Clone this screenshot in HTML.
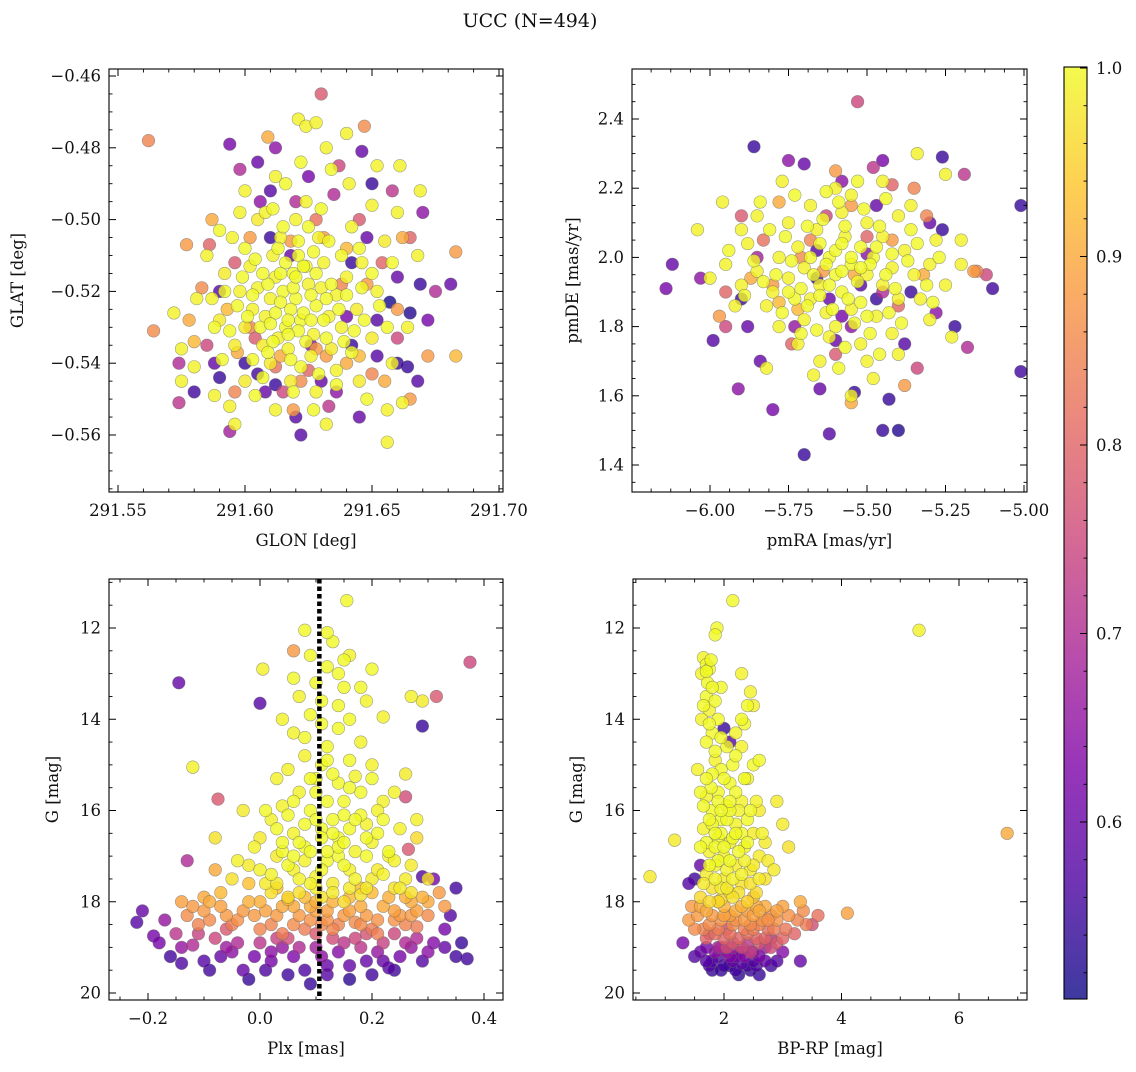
<!DOCTYPE html>
<html><head><meta charset="utf-8"><style>
html,body{margin:0;padding:0;background:#fff;}
svg text{font-family:"DejaVu Serif","Liberation Serif",serif;fill:#111;}
</style></head><body>
<svg id="fig" width="1136" height="1067" xmlns="http://www.w3.org/2000/svg">
<defs>
<linearGradient id="cbgrad" x1="0" y1="1" x2="0" y2="0">
<stop offset="0" stop-color="#0d0887"/><stop offset="0.125" stop-color="#4c02a1"/><stop offset="0.25" stop-color="#7e03a8"/><stop offset="0.375" stop-color="#a92395"/><stop offset="0.5" stop-color="#cc4778"/><stop offset="0.625" stop-color="#e56b5d"/><stop offset="0.75" stop-color="#f89540"/><stop offset="0.875" stop-color="#fdc527"/><stop offset="1" stop-color="#f0f921"/>
</linearGradient>
</defs>
<text x="530" y="27" font-size="19" text-anchor="middle">UCC (N=494)</text>
</svg>
<script>
const vmin = 0.51, vmax = 1.0;
const panel1Points = [
[291.615,-0.520,1.0],[291.620,-0.522,1.0],[291.625,-0.518,0.99],[291.618,-0.525,1.0],[291.622,-0.528,1.0],[291.612,-0.516,0.99],[291.628,-0.524,1.0],[291.610,-0.522,0.99],[291.630,-0.519,0.99],[291.616,-0.530,1.0],[291.624,-0.513,0.99],[291.608,-0.527,0.99],[291.633,-0.527,0.99],[291.619,-0.515,1.0],[291.613,-0.533,0.99],[291.627,-0.532,0.99],[291.605,-0.519,0.99],[291.636,-0.521,0.99],[291.621,-0.510,1.0],[291.611,-0.510,0.99],[291.631,-0.512,0.99],[291.603,-0.525,0.99],[291.638,-0.530,0.99],[291.617,-0.536,0.99],[291.626,-0.538,0.99],[291.607,-0.535,0.98],[291.640,-0.516,0.99],[291.600,-0.530,0.98],[291.614,-0.505,0.99],[291.629,-0.505,0.99],[291.634,-0.536,0.98],[291.602,-0.513,0.99],[291.644,-0.525,0.98],[291.598,-0.520,0.99],[291.620,-0.500,0.99],[291.610,-0.540,0.98],[291.636,-0.542,0.99],[291.596,-0.535,0.98],[291.646,-0.512,0.99],[291.592,-0.515,0.98],[291.650,-0.533,0.98],[291.624,-0.495,0.99],[291.605,-0.500,0.98],[291.642,-0.502,0.99],[291.590,-0.528,0.98],[291.652,-0.520,0.99],[291.618,-0.545,0.98],[291.628,-0.548,0.99],[291.600,-0.545,0.98],[291.645,-0.545,0.98],[291.587,-0.522,0.99],[291.655,-0.506,0.98],
[291.598,-0.498,0.99],[291.608,-0.498,0.99],[291.600,-0.492,0.99],[291.621,-0.472,0.99],[291.624,-0.474,0.99],[291.628,-0.473,0.99],[291.632,-0.480,0.99],[291.640,-0.476,0.99],[291.652,-0.485,0.99],[291.661,-0.485,0.99],[291.669,-0.492,0.99],[291.662,-0.551,0.99],[291.656,-0.553,0.99],[291.656,-0.562,0.99],[291.596,-0.557,0.99],[291.581,-0.522,0.99],[291.572,-0.526,0.99],[291.575,-0.536,0.99],[291.580,-0.541,0.99],[291.588,-0.549,0.99],[291.594,-0.552,0.99],[291.664,-0.530,0.99],[291.668,-0.510,0.99],[291.658,-0.540,0.99],[291.632,-0.557,0.99],[291.612,-0.553,0.99],[291.641,-0.490,0.99],[291.612,-0.488,0.99],[291.595,-0.505,0.99],[291.650,-0.496,0.99],[291.585,-0.510,0.99],[291.660,-0.498,0.99],[291.575,-0.545,0.99],
[291.614,-0.523,1.0],[291.619,-0.519,1.0],[291.623,-0.526,1.0],[291.617,-0.528,1.0],[291.626,-0.521,1.0],[291.609,-0.518,1.0],[291.631,-0.528,1.0],[291.621,-0.531,1.0],[291.612,-0.526,1.0],[291.628,-0.515,1.0],[291.616,-0.512,1.0],[291.634,-0.518,1.0],[291.606,-0.530,1.0],[291.624,-0.534,1.0],[291.620,-0.516,1.0],[291.611,-0.534,1.0],[291.632,-0.533,1.0],[291.603,-0.521,1.0],[291.637,-0.525,1.0],[291.618,-0.539,1.0],[291.627,-0.509,1.0],[291.613,-0.508,1.0],[291.609,-0.537,1.0],[291.640,-0.521,1.0],[291.601,-0.527,1.0],[291.622,-0.541,1.0],[291.615,-0.502,1.0],[291.633,-0.506,1.0],[291.629,-0.543,1.0],[291.604,-0.511,1.0],[291.643,-0.531,1.0],[291.597,-0.524,1.0],[291.638,-0.510,1.0],[291.607,-0.544,1.0],[291.625,-0.502,1.0],[291.642,-0.537,1.0],[291.599,-0.516,1.0],[291.619,-0.548,1.0],[291.646,-0.519,1.0],[291.594,-0.531,1.0],[291.611,-0.497,1.0],[291.630,-0.497,1.0],[291.647,-0.528,1.0],[291.603,-0.539,1.0],[291.636,-0.546,1.0],[291.592,-0.520,1.0],[291.650,-0.515,1.0],[291.621,-0.506,1.0],[291.614,-0.515,1.0],[291.626,-0.528,1.0],[291.617,-0.532,1.0],[291.623,-0.513,1.0],[291.610,-0.529,1.0],[291.632,-0.522,1.0],[291.607,-0.515,1.0],[291.639,-0.534,1.0],[291.600,-0.508,1.0],[291.645,-0.508,1.0],[291.591,-0.539,1.0],[291.653,-0.524,1.0],[291.616,-0.490,1.0],[291.634,-0.486,1.0],[291.604,-0.549,1.0],[291.648,-0.550,1.0],[291.588,-0.530,1.0],[291.656,-0.530,1.0],[291.622,-0.484,1.0],[291.590,-0.503,1.0],[291.658,-0.512,1.0],[291.627,-0.553,1.0],
[291.564,-0.531,0.86],[291.562,-0.478,0.85],[291.577,-0.507,0.88],[291.574,-0.540,0.70],[291.574,-0.551,0.72],[291.594,-0.479,0.62],[291.605,-0.484,0.60],[291.609,-0.477,0.90],[291.647,-0.474,0.86],[291.646,-0.481,0.60],[291.670,-0.498,0.65],[291.683,-0.509,0.88],[291.669,-0.518,0.55],[291.681,-0.518,0.60],[291.672,-0.538,0.88],[291.683,-0.538,0.92],[291.664,-0.541,0.55],[291.665,-0.550,0.88],[291.594,-0.559,0.68],[291.620,-0.555,0.58],[291.619,-0.553,0.88],[291.586,-0.507,0.80],[291.590,-0.544,0.55],[291.605,-0.543,0.56],[291.630,-0.545,0.60],[291.642,-0.535,0.55],[291.652,-0.528,0.58],[291.660,-0.516,0.60],[291.657,-0.523,0.52],[291.665,-0.526,0.53],[291.610,-0.505,0.55],[291.625,-0.488,0.62],[291.635,-0.493,0.70],[291.645,-0.500,0.78],[291.597,-0.537,0.90],[291.602,-0.530,0.85],[291.632,-0.538,0.88],[291.640,-0.540,0.90],[291.625,-0.542,0.80],[291.612,-0.541,0.82],[291.648,-0.518,0.88],[291.654,-0.512,0.80],[291.593,-0.525,0.92],[291.596,-0.512,0.78],[291.583,-0.519,0.86],[291.580,-0.534,0.92],[291.588,-0.540,0.60],[291.615,-0.548,0.75],[291.636,-0.548,0.65],[291.650,-0.543,0.85],[291.660,-0.533,0.75],[291.628,-0.500,0.82],[291.606,-0.495,0.65],[291.640,-0.508,0.92],[291.618,-0.506,0.88],[291.598,-0.486,0.70],[291.610,-0.492,0.58],[291.658,-0.492,0.72],[291.665,-0.505,0.80],[291.672,-0.528,0.62],[291.630,-0.465,0.78],
[291.628,-0.536,0.88],[291.614,-0.538,0.90],[291.638,-0.518,0.85],[291.604,-0.533,0.78],[291.622,-0.545,0.86],[291.645,-0.538,0.92],[291.600,-0.540,0.55],[291.608,-0.548,0.60],[291.640,-0.527,0.62],[291.652,-0.538,0.58],[291.655,-0.545,0.90],[291.660,-0.525,0.88],[291.648,-0.505,0.60],[291.590,-0.520,0.58],[291.585,-0.535,0.75],[291.578,-0.528,0.90],[291.596,-0.548,0.85],[291.633,-0.552,0.72],[291.645,-0.555,0.60],[291.668,-0.545,0.58],[291.675,-0.520,0.70],[291.662,-0.505,0.90],[291.620,-0.495,0.70],[291.602,-0.505,0.88],[291.612,-0.480,0.65],[291.637,-0.485,0.75],[291.650,-0.490,0.55],[291.587,-0.500,0.90],[291.580,-0.548,0.56],[291.622,-0.560,0.58],[291.612,-0.546,0.55],[291.642,-0.512,0.55],[291.626,-0.535,0.65],[291.618,-0.510,0.60],[291.631,-0.505,0.88],[291.660,-0.540,0.55]
];
const panel2Points = [
[-5.60,1.95,1.0],[-5.55,1.98,1.0],[-5.65,1.92,0.99],[-5.58,1.90,1.0],[-5.62,2.00,1.0],[-5.50,1.95,0.99],[-5.70,1.97,0.99],[-5.52,2.03,1.0],[-5.68,1.88,0.99],[-5.45,1.92,0.99],[-5.75,1.94,0.99],[-5.57,2.06,0.99],[-5.63,1.84,0.99],[-5.48,2.00,1.0],[-5.72,2.03,0.99],[-5.42,1.97,0.99],[-5.80,1.90,0.99],[-5.55,1.85,0.99],[-5.66,2.08,0.99],[-5.40,1.88,0.99],[-5.78,2.00,0.99],[-5.50,2.10,0.99],[-5.60,1.80,0.99],[-5.35,1.95,0.99],[-5.85,1.96,0.99],[-5.45,2.06,0.99],[-5.70,1.82,0.99],[-5.38,2.02,0.99],[-5.82,1.86,0.99],[-5.58,2.13,0.99],[-5.62,1.77,0.99],[-5.30,1.98,0.99],[-5.90,1.92,0.99],[-5.47,1.83,0.99],[-5.75,2.10,0.99],[-5.40,2.12,0.99],[-5.52,1.75,0.99],[-5.88,2.04,0.99],[-5.33,1.88,0.99],[-5.68,2.15,0.99],[-5.28,2.05,0.99],[-5.95,1.98,0.99],[-5.55,2.18,0.99],[-5.72,1.75,0.99],[-5.42,1.78,0.99],[-5.25,1.92,0.99],[-5.92,1.86,0.99],[-5.60,2.20,0.99],[-5.85,2.12,0.99],[-5.36,2.15,0.99],[-5.50,1.70,0.99],[-5.78,1.80,0.99],[-5.20,1.98,0.99],[-6.00,1.94,0.99],[-5.65,1.70,0.99],[-5.45,2.22,0.99],[-5.30,1.82,0.99],[-5.20,2.05,0.99],[-5.34,2.30,0.99],[-6.04,2.08,0.99],[-5.96,2.16,0.99],[-5.77,2.22,0.99],[-5.23,1.77,0.99],[-5.25,2.24,0.99],[-5.48,1.65,0.99],[-5.40,1.72,0.99],[-5.55,1.60,0.99],[-5.82,1.68,0.99],[-5.90,2.08,0.99],[-5.67,1.66,0.99],
[-5.58,1.96,1.0],[-5.63,1.98,1.0],[-5.53,1.93,1.0],[-5.67,1.95,1.0],[-5.60,2.02,1.0],[-5.56,1.88,1.0],[-5.71,1.91,1.0],[-5.49,1.98,1.0],[-5.65,2.04,1.0],[-5.52,1.87,1.0],[-5.74,1.99,1.0],[-5.44,1.95,1.0],[-5.61,1.85,1.0],[-5.57,2.09,1.0],[-5.69,1.86,1.0],[-5.47,2.03,1.0],[-5.79,1.95,1.0],[-5.41,1.91,1.0],[-5.64,2.11,1.0],[-5.54,1.81,1.0],[-5.76,2.06,1.0],[-5.37,1.99,1.0],[-5.83,1.93,1.0],[-5.51,2.14,1.0],[-5.66,1.79,1.0],[-5.43,1.84,1.0],[-5.73,1.88,1.0],[-5.59,2.16,1.0],[-5.34,2.04,1.0],[-5.86,1.99,1.0],[-5.49,1.78,1.0],[-5.62,1.92,1.0],[-5.55,2.00,1.0],[-5.68,2.00,1.0],[-5.46,2.09,1.0],[-5.81,2.08,1.0],[-5.39,1.81,1.0],[-5.71,1.78,1.0],[-5.57,1.74,1.0],[-5.31,1.92,1.0],[-5.89,1.89,1.0],[-5.63,2.19,1.0],[-5.44,2.17,1.0],[-5.77,1.84,1.0],[-5.36,2.08,1.0],[-5.53,2.22,1.0],[-5.84,2.16,1.0],[-5.27,2.00,1.0],[-5.94,2.02,1.0],[-5.59,1.68,1.0],[-5.46,1.72,1.0],[-5.73,2.18,1.0],[-5.29,1.87,1.0],[-5.52,1.97,1.0],[-5.65,1.89,1.0],[-5.58,2.04,1.0],[-5.42,2.01,1.0],[-5.75,1.90,1.0],[-5.50,1.83,1.0],[-5.69,2.09,1.0],
[-6.14,1.91,0.62],[-5.53,2.45,0.75],[-5.86,2.32,0.55],[-5.26,2.29,0.55],[-5.19,2.24,0.72],[-5.01,2.15,0.55],[-5.01,1.67,0.56],[-5.70,1.43,0.55],[-5.62,1.49,0.58],[-5.45,1.50,0.55],[-5.40,1.50,0.53],[-5.43,1.59,0.55],[-5.54,1.61,0.55],[-5.80,1.56,0.62],[-5.91,1.62,0.65],[-5.99,1.76,0.58],[-6.12,1.98,0.60],[-5.15,1.96,0.85],[-5.12,1.95,0.75],[-5.10,1.91,0.56],[-5.18,1.74,0.70],[-5.22,1.80,0.55],[-5.26,2.08,0.55],[-5.30,2.10,0.60],[-5.38,1.63,0.88],[-5.34,1.68,0.75],[-5.84,1.70,0.60],[-5.74,1.75,0.80],[-5.75,2.28,0.65],[-5.70,2.27,0.60],[-5.60,2.25,0.88],[-5.58,2.22,0.65],[-5.48,2.26,0.72],[-5.42,2.21,0.80],[-5.35,2.20,0.85],[-5.95,1.80,0.75],[-5.88,1.80,0.60],[-5.97,1.83,0.88],[-5.80,1.92,0.88],[-5.68,2.05,0.85],[-5.50,2.06,0.80],[-5.45,1.90,0.70],[-5.62,1.88,0.60],[-5.55,1.80,0.65],[-5.32,1.95,0.90],[-5.40,1.86,0.80],[-5.66,1.94,0.55],[-5.52,1.92,0.58],[-5.28,1.84,0.65],[-5.85,2.00,0.68],[-5.78,2.16,0.90],[-5.63,2.12,0.75],[-5.47,2.15,0.60],[-5.90,1.88,0.55],[-5.72,1.85,0.92],[-5.60,1.72,0.78],[-5.55,1.58,0.90],[-5.16,1.96,0.88],[-5.90,2.12,0.78],[-6.03,1.94,0.65],
[-5.64,1.96,0.88],[-5.54,1.95,0.90],[-5.71,2.00,0.86],[-5.47,1.88,0.55],[-5.58,1.83,0.62],[-5.66,2.02,0.58],[-5.50,2.01,0.65],[-5.78,1.87,0.92],[-5.42,2.05,0.88],[-5.36,1.90,0.55],[-5.83,2.05,0.82],[-5.60,1.76,0.60],[-5.55,2.15,0.88],[-5.73,1.80,0.66],[-5.38,1.75,0.58],[-5.87,1.94,0.90],[-5.31,2.12,0.85],[-5.45,2.28,0.62],[-5.95,1.90,0.80],[-5.65,1.62,0.60]
];
const panel3Points = [
[0.08,12.05,1.0],[0.155,11.4,1.0],[0.005,12.9,0.99],[0.13,12.3,1.0],[0.15,12.7,1.0],[0.16,12.6,0.99],[0.14,13.0,1.0],[0.10,13.2,1.0],[0.07,13.5,0.99],[0.15,13.3,1.0],[0.22,13.95,0.99],[0.27,13.5,0.99],[0.11,13.6,1.0],[0.09,13.9,1.0],[0.06,14.3,0.99],[0.14,14.2,1.0],[0.18,14.5,0.99],[0.12,14.6,1.0],[0.08,14.8,0.99],[0.16,14.9,1.0],[0.05,15.1,0.99],[0.20,15.0,0.99],[0.10,15.3,1.0],[0.14,15.4,1.0],[0.07,15.6,0.99],[0.18,15.6,1.0],[0.12,15.8,1.0],[0.04,15.9,0.99],[0.22,15.8,0.99],[0.09,16.0,1.0],[0.15,16.1,1.0],[0.02,16.2,0.99],[0.19,16.3,0.99],[0.11,16.4,1.0],[0.06,16.5,0.99],[0.25,16.4,0.99],[0.14,16.6,1.0],[0.00,16.6,0.98],[0.20,16.7,0.99],[0.08,16.8,1.0],[0.17,16.9,0.99],[0.03,17.0,0.98],[0.23,17.0,0.99],[0.12,17.1,1.0],[-0.02,17.2,0.98],[0.27,17.2,0.98],[0.06,17.3,0.99],[0.16,17.3,0.99],[0.10,17.45,0.99],[0.20,17.5,0.98],[-0.05,17.5,0.97],[0.01,17.6,0.98],[0.13,17.6,0.98],[0.24,17.7,0.97],[0.07,17.8,0.97],[0.18,17.85,0.97],[-0.08,16.6,0.97],[-0.12,15.05,0.99],[0.30,17.5,0.97],[0.28,16.6,0.96],[0.05,17.9,0.96],[0.15,18.0,0.96],[0.09,12.6,1.0],[0.12,12.85,1.0],[0.04,14.0,0.99],[0.19,13.6,0.99],[0.21,16.0,0.99],[0.03,15.3,0.99],[-0.03,16.0,0.98],[0.26,15.2,0.98],[0.11,15.0,1.0],[0.13,16.2,1.0],[0.16,17.7,0.98],[0.08,17.1,0.99],[0.02,17.8,0.97],[0.21,17.3,0.98],[0.11,17.9,0.97],[0.29,13.6,0.98],[0.24,15.6,0.99],[0.17,15.25,0.99],
[0.10,16.2,1.0],[0.13,16.5,1.0],[0.07,16.7,1.0],[0.16,16.4,1.0],[0.04,16.9,1.0],[0.19,17.0,1.0],[0.11,17.3,1.0],[0.14,17.0,1.0],[0.02,17.4,0.99],[0.09,17.6,0.99],[0.17,17.5,0.99],[0.22,17.4,0.99],[0.05,17.2,1.0],[0.12,16.9,1.0],[0.08,16.3,1.0],[0.15,15.8,1.0],[0.18,16.1,1.0],[0.06,15.8,1.0],[0.10,15.6,1.0],[0.13,15.2,1.0],[0.21,16.5,1.0],[0.24,17.1,0.99],[0.00,17.3,0.99],[-0.01,16.8,0.99],[0.03,16.4,1.0],[0.15,17.2,1.0],[0.07,17.5,0.99],[0.11,16.6,1.0],[0.19,16.6,1.0],[0.26,17.5,0.98],[0.13,17.8,0.98],[0.09,16.9,1.0],[0.17,16.2,1.0],[0.05,16.1,1.0],[0.20,15.3,1.0],[0.12,14.9,1.0],[0.08,14.4,1.0],[0.16,14.0,1.0],[0.11,14.1,1.0],[0.14,13.7,1.0],[0.18,13.3,1.0],[0.06,13.1,1.0],[0.20,12.9,1.0],[0.12,12.1,1.0],[0.28,16.2,0.99],[0.25,17.7,0.98],[-0.04,17.1,0.99],[0.03,17.6,0.98],[0.14,16.8,1.0],[0.22,16.2,1.0],[0.09,15.3,1.0],[0.16,15.5,1.0],[0.04,16.7,1.0],[0.19,17.7,0.98],[0.27,17.8,0.97],[0.01,16.0,1.0],[0.23,16.9,1.0],[0.10,17.7,0.98],[0.06,17.0,1.0],[0.15,16.7,1.0],
[-0.10,17.9,0.90],[-0.07,18.1,0.89],[-0.03,18.2,0.88],[0.00,18.0,0.91],[0.03,18.3,0.88],[0.06,18.1,0.90],[0.09,18.4,0.87],[0.12,18.2,0.89],[0.15,18.3,0.88],[0.18,18.1,0.90],[0.21,18.4,0.87],[0.24,18.2,0.89],[0.27,18.0,0.90],[0.30,18.3,0.86],[-0.13,18.3,0.86],[0.02,18.5,0.85],[0.08,18.6,0.84],[0.14,18.5,0.85],[0.20,18.6,0.84],[0.26,18.5,0.85],[-0.05,18.5,0.84],[0.32,17.8,0.88],[0.10,18.0,0.91],[-0.09,18.4,0.86],[0.17,18.45,0.86],[0.05,17.95,0.92],[0.23,17.9,0.91],[-0.12,18.1,0.88],[0.28,18.55,0.84],[-0.08,17.3,0.90],
[-0.09,18.0,0.90],[-0.06,18.3,0.88],[-0.02,18.0,0.91],[0.01,18.2,0.89],[0.04,18.1,0.90],[0.07,18.3,0.88],[0.10,18.2,0.89],[0.13,18.0,0.91],[0.16,18.2,0.89],[0.19,18.3,0.88],[0.22,18.1,0.90],[0.25,18.3,0.88],[0.28,18.2,0.89],[-0.11,18.5,0.85],[-0.04,18.4,0.87],[0.00,18.6,0.85],[0.06,18.5,0.86],[0.12,18.4,0.87],[0.18,18.5,0.86],[0.24,18.4,0.87],[0.30,18.0,0.90],[-0.07,17.8,0.92],[0.03,17.7,0.93],[0.16,17.9,0.92],[0.20,17.8,0.92],[0.26,17.9,0.91],[-0.02,17.6,0.93],[0.09,18.1,0.90],[0.13,18.6,0.85],[0.21,18.7,0.84],[-0.10,18.2,0.88],[0.08,17.9,0.92],[0.29,17.9,0.91],[0.33,18.1,0.88],[-0.14,18.0,0.89],[0.04,18.7,0.84],[0.11,18.5,0.86],[0.27,18.3,0.88],[0.18,17.7,0.93],[-0.01,18.3,0.88],
[-0.21,18.2,0.60],[-0.22,18.45,0.58],[-0.19,18.75,0.62],[-0.15,18.7,0.72],[-0.16,19.2,0.56],[-0.12,18.95,0.70],[-0.10,19.3,0.58],[-0.08,18.8,0.75],[-0.05,19.1,0.65],[-0.03,19.5,0.60],[0.00,18.9,0.72],[0.02,19.3,0.62],[0.05,19.6,0.56],[0.07,19.0,0.70],[0.09,19.8,0.55],[0.11,19.2,0.65],[0.13,18.8,0.76],[0.16,19.4,0.60],[0.18,19.0,0.72],[0.20,19.6,0.56],[0.22,18.9,0.74],[0.25,19.2,0.62],[0.28,18.8,0.70],[0.30,19.1,0.65],[0.34,18.3,0.58],[0.35,17.7,0.56],[0.36,18.9,0.55],[0.37,19.25,0.56],[0.33,18.6,0.62],[-0.145,13.2,0.60],[0.0,13.65,0.58],[0.29,14.15,0.55],[0.375,12.75,0.75],[0.315,13.5,0.78],[0.265,16.85,0.78],[0.26,15.7,0.76],[-0.075,15.75,0.78],[0.06,12.5,0.88],[-0.02,19.7,0.55],[0.04,19.0,0.66],[0.12,19.6,0.58],[0.15,18.9,0.72],[-0.06,18.6,0.78],[0.24,18.7,0.75],[-0.13,17.1,0.70],[0.31,17.5,0.62],[0.29,17.45,0.58],[0.10,18.7,0.78],[0.19,18.7,0.77],[-0.14,19.35,0.57],[0.23,19.45,0.58],
[-0.18,18.9,0.62],[-0.14,19.0,0.66],[-0.11,18.7,0.74],[-0.07,19.2,0.60],[-0.04,18.9,0.70],[-0.01,19.2,0.62],[0.01,19.5,0.57],[0.03,18.8,0.74],[0.06,19.2,0.63],[0.08,19.5,0.57],[0.10,19.0,0.68],[0.14,19.1,0.64],[0.17,18.8,0.75],[0.19,19.3,0.60],[0.21,19.1,0.66],[0.24,19.5,0.56],[0.26,18.9,0.70],[0.29,19.3,0.58],[0.31,18.9,0.64],[0.33,19.0,0.60],[-0.09,19.5,0.56],[0.12,19.4,0.60],[0.05,18.8,0.76],[0.16,19.7,0.54],[-0.17,18.4,0.66],[0.35,19.2,0.56],[0.27,19.0,0.66],[-0.06,19.0,0.67],[0.02,19.1,0.65],[0.22,19.3,0.60]
];
const panel4Points = [
[2.15,11.4,1.0],[1.88,12.0,1.0],[1.85,12.15,1.0],[1.65,12.65,0.99],[1.70,12.8,1.0],[1.75,12.9,1.0],[1.62,13.0,0.99],[1.72,13.2,1.0],[2.30,13.0,0.99],[2.45,13.4,0.99],[2.40,13.7,1.0],[2.50,13.7,0.99],[1.70,13.5,1.0],[1.85,13.6,1.0],[1.75,13.8,0.99],[1.90,14.0,1.0],[2.20,14.3,0.99],[2.30,14.6,0.99],[1.80,14.3,1.0],[1.70,14.5,1.0],[2.05,14.6,1.0],[1.85,14.9,0.99],[1.95,15.1,1.0],[1.55,15.1,0.99],[1.80,15.2,1.0],[2.40,15.3,0.99],[2.10,15.4,1.0],[1.90,15.6,1.0],[1.70,15.7,0.99],[2.30,15.8,0.99],[2.90,15.8,0.98],[2.05,15.9,1.0],[1.80,16.0,1.0],[2.60,16.0,0.98],[1.95,16.2,1.0],[2.20,16.3,0.99],[1.65,16.4,0.99],[2.50,16.5,0.98],[1.90,16.6,1.0],[1.16,16.65,0.98],[2.10,16.7,0.99],[2.35,16.8,0.99],[1.75,16.9,0.99],[2.00,17.0,0.99],[2.60,17.0,0.98],[1.85,17.2,0.99],[2.20,17.2,0.98],[3.10,16.8,0.97],[2.45,17.3,0.98],[1.70,17.4,0.98],[0.74,17.45,0.98],[2.00,17.5,0.98],[2.30,17.6,0.97],[1.80,17.7,0.97],[2.10,17.8,0.97],[2.55,17.8,0.96],[1.95,17.95,0.96],[2.40,18.0,0.95],[5.32,12.05,0.99],[1.60,17.9,0.96],[2.25,16.0,0.99],[1.95,13.3,1.0],[2.70,17.5,0.97],[3.00,16.3,0.98],[1.78,15.5,1.0],[2.15,15.0,1.0],[1.62,14.0,0.99],[2.70,16.7,0.98],
[1.80,16.3,1.0],[1.95,16.5,1.0],[2.05,16.2,1.0],[1.70,16.7,1.0],[2.15,16.6,1.0],[1.85,16.8,1.0],[2.25,16.9,1.0],[1.90,17.1,1.0],[2.05,17.3,0.99],[2.35,17.1,0.99],[1.75,17.2,1.0],[2.15,17.5,0.99],[1.95,17.7,0.98],[2.25,17.8,0.97],[2.45,17.6,0.97],[1.85,17.5,0.99],[2.00,16.8,1.0],[2.30,16.5,1.0],[1.60,16.8,1.0],[1.75,16.2,1.0],[2.10,16.0,1.0],[1.90,15.8,1.0],[2.20,15.6,1.0],[1.65,15.9,1.0],[2.40,16.2,1.0],[2.00,15.3,1.0],[1.70,15.3,1.0],[1.85,14.7,1.0],[2.20,14.8,1.0],[1.75,14.1,1.0],[1.95,14.4,1.0],[1.65,13.7,1.0],[1.80,13.3,1.0],[2.35,14.1,1.0],[1.70,12.95,1.0],[1.78,12.7,1.0],[2.50,17.2,0.98],[2.65,16.5,0.99],[2.55,15.8,0.99],[2.15,17.9,0.97],[1.95,16.0,1.0],[2.40,16.7,1.0],[1.85,16.5,1.0],[2.10,17.1,1.0],[2.30,17.4,0.99],[1.65,17.6,0.98],[2.60,17.5,0.98],[1.90,18.0,0.96],[2.05,17.7,0.98],[2.75,17.1,0.98],[2.45,16.0,1.0],[2.35,15.3,1.0],[2.10,15.8,1.0],[1.75,18.0,0.96],[2.20,16.5,1.0],[2.50,15.0,1.0],[2.60,14.9,1.0],[2.30,14.0,1.0],[1.60,15.6,1.0],[2.85,17.3,0.98],
[1.60,18.1,0.90],[1.80,18.3,0.88],[2.00,18.1,0.91],[2.20,18.4,0.87],[2.40,18.2,0.89],[2.60,18.5,0.85],[2.80,18.3,0.87],[3.00,18.1,0.89],[3.30,18.0,0.90],[3.40,18.5,0.84],[1.90,18.6,0.84],[2.10,18.7,0.82],[2.35,18.6,0.84],[2.55,18.8,0.80],[2.75,18.6,0.82],[3.20,18.7,0.80],[4.10,18.25,0.89],[6.82,16.5,0.90],[1.40,18.4,0.88],[2.50,17.9,0.92],[2.90,18.9,0.78],[3.60,18.3,0.82],[1.70,18.8,0.80],[1.50,18.6,0.86],
[1.70,18.2,0.90],[1.90,18.0,0.92],[2.10,18.3,0.89],[2.30,18.1,0.91],[2.50,18.3,0.89],[2.70,18.1,0.90],[2.90,18.4,0.87],[3.10,18.3,0.87],[1.75,18.5,0.86],[1.95,18.4,0.87],[2.15,18.5,0.86],[2.45,18.5,0.86],[2.65,18.4,0.87],[2.85,18.6,0.84],[3.05,18.6,0.83],[2.00,18.8,0.80],[2.25,18.8,0.80],[2.40,18.7,0.82],[2.60,18.9,0.78],[2.80,19.0,0.76],[1.55,18.3,0.88],[2.20,18.2,0.90],[2.35,18.4,0.88],[2.55,18.1,0.90],[3.25,18.4,0.85],[1.85,18.7,0.82],[2.05,19.0,0.76],[2.30,19.0,0.76],[2.45,19.1,0.74],[2.70,18.8,0.80],[3.00,18.8,0.80],[2.00,18.3,0.89],[2.60,18.2,0.90],[1.65,18.6,0.85],[2.90,18.2,0.89],[3.35,18.2,0.86],[1.45,18.1,0.88],[2.15,18.9,0.78],[2.50,18.6,0.84],[2.75,18.4,0.87],
[1.70,19.0,0.62],[1.90,19.2,0.58],[2.10,19.4,0.55],[2.30,19.1,0.62],[2.50,19.3,0.58],[2.70,19.0,0.66],[2.90,19.3,0.58],[1.80,19.5,0.55],[2.20,19.5,0.56],[2.60,19.6,0.55],[3.30,19.3,0.60],[1.50,17.5,0.56],[1.60,17.2,0.60],[2.00,14.2,0.55],[2.10,14.5,0.58],[1.95,19.0,0.70],[2.40,18.9,0.72],[1.75,18.7,0.75],[2.80,18.8,0.72],[3.50,18.5,0.76],[2.15,19.0,0.68],[1.30,18.9,0.62],[2.05,18.6,0.76],
[1.60,19.1,0.60],[1.80,19.3,0.58],[2.00,19.4,0.56],[2.20,19.2,0.62],[2.40,19.4,0.57],[2.60,19.2,0.62],[2.80,19.4,0.56],[1.90,19.0,0.68],[2.10,19.2,0.63],[2.30,19.35,0.58],[2.50,19.1,0.66],[2.70,19.3,0.60],[1.70,19.3,0.58],[1.95,19.5,0.55],[2.15,19.3,0.60],[2.45,19.5,0.55],[1.40,17.6,0.58],[1.50,19.2,0.58],[2.05,19.1,0.66],[2.35,19.2,0.64],[1.85,19.1,0.65],[3.00,19.1,0.64],[2.55,19.4,0.57],[2.25,19.6,0.54],[1.75,19.4,0.57]
];
const p1XTicks = [291.55, 291.60, 291.65, 291.70];
const p1XTickLabels = ["291.55", "291.60", "291.65", "291.70"];
const p1YTicks = [-0.46, -0.48, -0.50, -0.52, -0.54, -0.56];
const p1YTickLabels = ["\u22120.46", "\u22120.48", "\u22120.50", "\u22120.52", "\u22120.54", "\u22120.56"];
const p2XTicks = [-6.0, -5.75, -5.5, -5.25, -5.0];
const p2XTickLabels = ["\u22126.00", "\u22125.75", "\u22125.50", "\u22125.25", "\u22125.00"];
const p2YTicks = [1.4, 1.6, 1.8, 2.0, 2.2, 2.4];
const p2YTickLabels = ["1.4", "1.6", "1.8", "2.0", "2.2", "2.4"];
const p3XTicks = [-0.2, 0.0, 0.2, 0.4];
const p3XTickLabels = ["\u22120.2", "0.0", "0.2", "0.4"];
const gTicks = [12, 14, 16, 18, 20];
const gTickLabels = ["12", "14", "16", "18", "20"];
const p4XTicks = [2, 4, 6];
const p4XTickLabels = ["2", "4", "6"];
const cbTicks = [0.6, 0.7, 0.8, 0.9, 1.0];
const cbTickLabels = ["0.6", "0.7", "0.8", "0.9", "1.0"];
const plxLine = 0.106;

const NS = "http://www.w3.org/2000/svg";
const svg = document.getElementById('fig');
function mk(tag, attrs, parent) {
  const e = document.createElementNS(NS, tag);
  for (const k in attrs) e.setAttribute(k, attrs[k]);
  (parent || svg).appendChild(e);
  return e;
}
function lin(d0, d1, r0, r1) { return v => r0 + (v - d0) / (d1 - d0) * (r1 - r0); }
const stops = [[0,[13,8,135]],[0.125,[76,2,161]],[0.25,[126,3,168]],[0.375,[169,35,149]],[0.5,[204,71,120]],[0.625,[229,107,93]],[0.75,[248,149,64]],[0.875,[253,197,39]],[1,[240,249,33]]];
function plasma(p) {
  let t = Math.max(0, Math.min(1, (p - vmin) / (vmax - vmin)));
  for (let i = 1; i < stops.length; i++) {
    if (t <= stops[i][0]) {
      const a = stops[i-1], b = stops[i], f = (t - a[0]) / (b[0] - a[0]);
      const c = a[1].map((v, j) => Math.round(v + (b[1][j] - v) * f));
      return `rgb(${c[0]},${c[1]},${c[2]})`;
    }
  }
  return 'rgb(240,249,33)';
}

function panel(cfg) {
  const g = mk('g', {});
  
  
  const {x0, x1, y0, y1} = cfg.box;
  const sx = cfg.sx, sy = cfg.sy;
  const clipId = 'clip-' + cfg.name;
  const cp = mk('clipPath', {id: clipId}, g);
  mk('rect', {x: x0, y: y0, width: x1 - x0, height: y1 - y0}, cp);
  const pts = cfg.points.slice().sort((a, b) => a[2] - b[2]);
  const mg = mk('g', {'clip-path': `url(#${clipId})`}, g);
  
  
  pts.forEach(pt => {
    const c = mk('circle', {cx: sx(pt[0]), cy: sy(pt[1]), r: 6.3, fill: plasma(pt[2]), 'fill-opacity': 0.8, stroke: '#666', 'stroke-opacity': 0.6, 'stroke-width': 0.6}, mg);
    
    
  });
  if (cfg.vline !== undefined) {
    const l = mk('line', {x1: sx(cfg.vline), x2: sx(cfg.vline), y1: y0, y2: y1, stroke: '#000', 'stroke-width': 4.5, 'stroke-dasharray': '4.5 3'}, g);
    
    
  }
  const fr = mk('rect', {x: x0, y: y0, width: x1 - x0, height: y1 - y0, fill: 'none', stroke: '#000', 'stroke-width': 1.1}, g);
  
  
  const xt = cfg.xTicks, step = xt[1] - xt[0];
  for (let i = -1; i < xt.length; i++) {
    const base = xt[0] + i * step;
    for (let k = 1; k < cfg.xMinor; k++) {
      const px = sx(base + k * step / cfg.xMinor);
      if (px > x0 + 0.5 && px < x1 - 0.5) {
        mk('line', {x1: px, x2: px, y1: y1, y2: y1 - 3.5, stroke: '#000', 'stroke-width': 0.9}, g);
        mk('line', {x1: px, x2: px, y1: y0, y2: y0 + 3.5, stroke: '#000', 'stroke-width': 0.9}, g);
      }
    }
  }
  xt.forEach((v, i) => {
    const px = sx(v);
    mk('line', {x1: px, x2: px, y1: y1, y2: y1 - 7, stroke: '#000', 'stroke-width': 1}, g);
    mk('line', {x1: px, x2: px, y1: y0, y2: y0 + 7, stroke: '#000', 'stroke-width': 1}, g);
    const t = mk('text', {x: px, y: y1 + 24, 'font-size': 16.5, 'text-anchor': 'middle'}, g);
    t.textContent = cfg.xLabels[i];
    
    
  });
  const yt = cfg.yTicks, ystep = yt[1] - yt[0];
  for (let i = -1; i < yt.length; i++) {
    const base = yt[0] + i * ystep;
    for (let k = 1; k < cfg.yMinor; k++) {
      const py = sy(base + k * ystep / cfg.yMinor);
      if (py > y0 + 0.5 && py < y1 - 0.5) {
        mk('line', {x1: x0, x2: x0 + 3.5, y1: py, y2: py, stroke: '#000', 'stroke-width': 0.9}, g);
        mk('line', {x1: x1, x2: x1 - 3.5, y1: py, y2: py, stroke: '#000', 'stroke-width': 0.9}, g);
      }
    }
  }
  yt.forEach((v, i) => {
    const py = sy(v);
    mk('line', {x1: x0, x2: x0 + 7, y1: py, y2: py, stroke: '#000', 'stroke-width': 1}, g);
    mk('line', {x1: x1, x2: x1 - 7, y1: py, y2: py, stroke: '#000', 'stroke-width': 1}, g);
    const t = mk('text', {x: x0 - 8, y: py + 5.5, 'font-size': 16.5, 'text-anchor': 'end'}, g);
    t.textContent = cfg.yLabels[i];
    
    
  });
  const xl = mk('text', {x: (x0 + x1) / 2, y: y1 + 54, 'font-size': 16.5, 'text-anchor': 'middle'}, g);
  xl.textContent = cfg.xTitle;
  
  
  const yx = cfg.yTitleX, yy = (y0 + y1) / 2;
  const yl = mk('text', {x: yx, y: yy, 'font-size': 16.5, 'text-anchor': 'middle', transform: `rotate(-90 ${yx} ${yy})`}, g);
  yl.textContent = cfg.yTitle;
  
  
}

panel({name: 'glon-glat-panel', box: {x0: 109, x1: 503, y0: 69, y1: 492},
  sx: lin(291.55, 291.70, 118, 499), sy: lin(-0.46, -0.56, 76, 435),
  points: panel1Points, xTicks: p1XTicks, xLabels: p1XTickLabels, xMinor: 5,
  yTicks: p1YTicks, yLabels: p1YTickLabels, yMinor: 4,
  xTitle: 'GLON [deg]', yTitle: 'GLAT [deg]', yTitleX: 23});
panel({name: 'pm-panel', box: {x0: 632, x1: 1027, y0: 69, y1: 492},
  sx: lin(-6.0, -5.0, 710, 1024), sy: lin(2.4, 1.4, 119, 465),
  points: panel2Points, xTicks: p2XTicks, xLabels: p2XTickLabels, xMinor: 4,
  yTicks: p2YTicks, yLabels: p2YTickLabels, yMinor: 4,
  xTitle: 'pmRA [mas/yr]', yTitle: 'pmDE [mas/yr]', yTitleX: 578});
panel({name: 'plx-g-panel', box: {x0: 109, x1: 503, y0: 579, y1: 1000},
  sx: lin(0.0, 0.4, 260, 484), sy: lin(12, 20, 628, 993),
  points: panel3Points, xTicks: p3XTicks, xLabels: p3XTickLabels, xMinor: 4,
  yTicks: gTicks, yLabels: gTickLabels, yMinor: 4, vline: plxLine,
  xTitle: 'Plx [mas]', yTitle: 'G [mag]', yTitleX: 58});
panel({name: 'cmd-panel', box: {x0: 633, x1: 1027, y0: 579, y1: 1000},
  sx: lin(2, 6, 724, 959), sy: lin(12, 20, 628, 993),
  points: panel4Points, xTicks: p4XTicks, xLabels: p4XTickLabels, xMinor: 4,
  yTicks: gTicks, yLabels: gTickLabels, yMinor: 4,
  xTitle: 'BP-RP [mag]', yTitle: 'G [mag]', yTitleX: 582});

const cbg = mk('g', {});


const cbx0 = 1064, cbx1 = 1087, cby0 = 67, cby1 = 999;
const cs = lin(1.0, 0.6, 68, 822);
mk('rect', {x: cbx0, y: cby0, width: cbx1 - cbx0, height: cby1 - cby0, fill: 'url(#cbgrad)', 'fill-opacity': 0.8}, cbg);
mk('rect', {x: cbx0, y: cby0, width: cbx1 - cbx0, height: cby1 - cby0, fill: 'none', stroke: '#000', 'stroke-width': 1.1}, cbg);
for (let v = 0.52; v < 1.0; v += 0.02) {
  const py = cs(v);
  if (py > cby0 && py < cby1) mk('line', {x1: cbx1, x2: cbx1 - 3.5, y1: py, y2: py, stroke: '#000', 'stroke-width': 0.9}, cbg);
}
cbTicks.forEach((v, i) => {
  const py = cs(v);
  mk('line', {x1: cbx1, x2: cbx1 - 7, y1: py, y2: py, stroke: '#000', 'stroke-width': 1}, cbg);
  const t = mk('text', {x: cbx1 + 9, y: py + 6, 'font-size': 16.5}, cbg);
  t.textContent = cbTickLabels[i];
  
  
});
</script>
</body></html>
